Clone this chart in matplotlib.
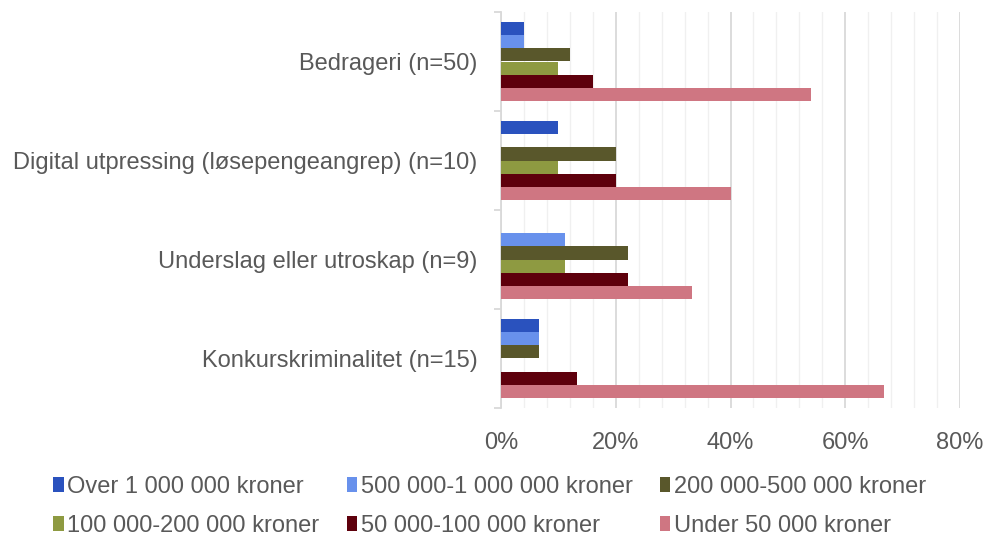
import numpy as np
import matplotlib.pyplot as plt
from matplotlib.ticker import MultipleLocator, PercentFormatter

plt.rcParams['font.family'] = ['Liberation Sans', 'DejaVu Sans']

categories = ['Bedrageri (n=50)', 'Digital utpressing (løsepengeangrep) (n=10)',
              'Underslag eller utroskap (n=9)', 'Konkurskriminalitet (n=15)']
series = ['Over 1 000 000 kroner', '500 000-1 000 000 kroner', '200 000-500 000 kroner',
          '100 000-200 000 kroner', '50 000-100 000 kroner', 'Under 50 000 kroner']
over_1m = [4.0, 10.0, 0.0, 6.67]
s500k_1m = [4.0, 0.0, 11.1, 6.67]
s200k_500k = [12.0, 20.0, 22.2, 6.67]
s100k_200k = [10.0, 10.0, 11.1, 0.0]
s50k_100k = [16.0, 20.0, 22.2, 13.33]
under_50k = [54.0, 40.0, 33.3, 66.67]
values = [over_1m, s500k_1m, s200k_500k, s100k_200k, s50k_100k, under_50k]
colors = ['#2a52be', '#6891ec', '#59572b', '#8e9a41', '#5e000c', '#cf7682']

fig = plt.figure(figsize=(9.85, 5.37), dpi=100)
ax = fig.add_axes([501 / 985, 1 - 408 / 537, (960 - 501) / 985, (408 - 12) / 537])

n = len(series)
h = 0.134
y = np.arange(len(categories))
bars = []
for i, (name, vals, c) in enumerate(zip(series, values, colors)):
    offs = (i - (n - 1) / 2) * h
    bars.append(ax.barh(y + offs, vals, height=h, color=c, label=name, zorder=3))

ax.set_ylim(len(categories) - 0.5, -0.5)
ax.set_xlim(0, 80)
ax.xaxis.set_major_locator(MultipleLocator(20))
ax.xaxis.set_minor_locator(MultipleLocator(4))
ax.xaxis.set_major_formatter(PercentFormatter(decimals=0))
ax.grid(axis='x', which='major', color='#d9d9d9', lw=1.3, zorder=0)
ax.grid(axis='x', which='minor', color='#f0f0f0', lw=1.0, zorder=0)
for s in ['top', 'right', 'bottom']:
    ax.spines[s].set_visible(False)
ax.spines['left'].set_color('#d9d9d9')
ax.spines['left'].set_linewidth(1.3)

ax.set_yticks(y)
ax.set_yticklabels(categories)
ax.set_yticks(np.arange(len(categories) + 1) - 0.5, minor=True)
ax.tick_params(axis='y', which='major', length=0, pad=17, labelsize=17, labelcolor='#595959')
ax.tick_params(axis='y', which='minor', length=5, color='#d9d9d9', width=1.3)
ax.tick_params(axis='x', which='both', length=0, pad=17, labelsize=17, labelcolor='#595959')

# legend filled row by row, like the original
order = [0, 3, 1, 4, 2, 5]
fig.legend([bars[k] for k in order], [series[k] for k in order],
           loc='lower center', bbox_to_anchor=(0.497, -0.04), ncol=3, frameon=False,
           fontsize=17, labelcolor='#595959', handlelength=0.45, handleheight=0.6,
           handletextpad=0.15, columnspacing=1.15, labelspacing=0.75)

fig.savefig('out.png', dpi=100)
